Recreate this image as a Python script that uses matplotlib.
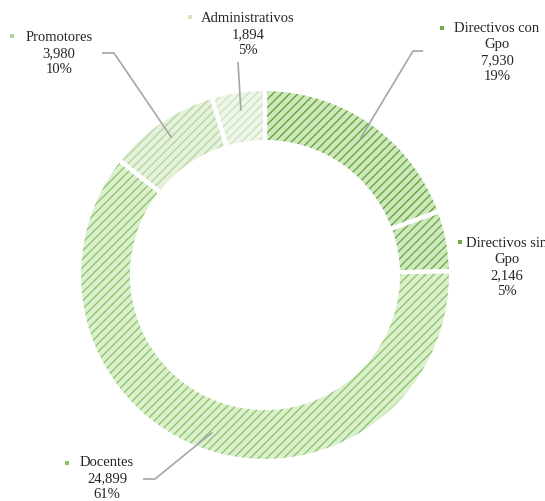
import matplotlib.pyplot as plt
import numpy as np

plt.rcParams['font.family'] = ['Liberation Serif', 'DejaVu Serif']
plt.rcParams['hatch.linewidth'] = 1.0

labels = ['Directivos con\nGpo', 'Directivos sin\nGpo', 'Docentes', 'Promotores', 'Administrativos']
values = [7930, 2146, 24899, 3980, 1894]
pcts = ['19%', '5%', '61%', '10%', '5%']
base = ['#cfe7bd', '#d0e8bf', '#dcefcf', '#e5f1dc', '#eef5e9']
hatchc = ['#66a63f', '#70ae49', '#8fc86b', '#b5d7a0', '#cde3bf']
marker = ['#70ad47', '#70ad47', '#8cc468', '#b4d69e', '#cfe6c0']

# label layout (pixel coords, y from top): text centre/top, marker, leader elbow/end
txt_pos = [(497, 22), (507, 237), (107, 456), (59, 31), (248, 12)]
mk_pos = [(442, 28), (460, 242), (67, 463), (12, 36), (190, 17)]
leader = [[(413, 51), (423, 51)], None, [(155, 479), (143, 479)],
          [(114, 53), (102, 53)], [(238, 62)]]

W, H = 545, 501
cx, cy, R = 265, 275, 186

fig = plt.figure(figsize=(W / 100, H / 100), dpi=100)
ax = fig.add_axes([0, 0, 1, 1])

kw = dict(center=(cx, H - cy), radius=R, startangle=90, counterclock=False)
ax.pie(values, colors=base, wedgeprops=dict(width=53, linewidth=0), **kw)
hw, _ = ax.pie(values, colors=['none'] * 5, wedgeprops=dict(width=53, linewidth=0), **kw)
for w, c in zip(hw, hatchc):
    w.set_hatch('////')
    w.set_edgecolor(c)
    w.set_facecolor('none')
ax.pie(values, colors=['none'] * 5,
       wedgeprops=dict(width=53, linewidth=3, edgecolor='white', fill=False), **kw)

ax.set_xlim(0, W)
ax.set_ylim(0, H)
ax.set_aspect('equal')
ax.axis('off')

# leader lines from the ring middle
frac = np.cumsum(values) / np.sum(values)
mid = frac - np.array(values) / np.sum(values) / 2
for i, pts in enumerate(leader):
    if pts is None:
        continue
    ang = np.deg2rad(90 - mid[i] * 360)
    x0 = cx + 166 * np.cos(ang)
    y0 = cy - 166 * np.sin(ang)
    xs = [x0] + [p[0] for p in pts]
    ys = [H - y0] + [H - p[1] for p in pts]
    ax.plot(xs, ys, color='#a6a6a6', lw=1.2, solid_capstyle='butt')

for i in range(5):
    s = labels[i] + '\n' + f'{values[i]:,}' + '\n' + pcts[i]
    tx, ty = txt_pos[i]
    ax.text(tx, H - ty, s, ha='center', va='top', fontsize=10.5,
            color='#262626', linespacing=1.3, clip_on=False)
    mx, my = mk_pos[i]
    ax.plot(mx, H - my, 's', ms=3, color=marker[i], mew=0)

fig.savefig('out.png', dpi=100)
